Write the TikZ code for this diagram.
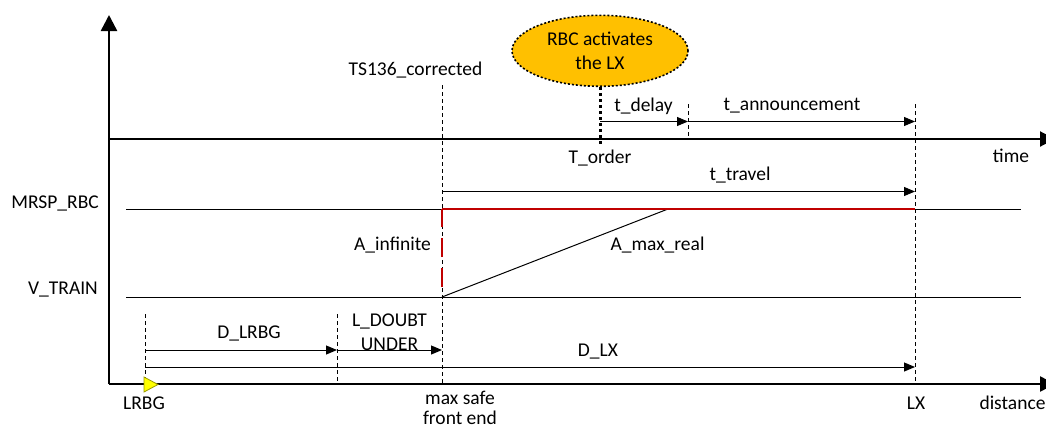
\documentclass[tikz,border=0pt]{standalone}
\usepackage{fontspec}
\setmainfont{Carlito}
\usetikzlibrary{arrows.meta,shapes.geometric}
\definecolor{lxorange}{HTML}{FFC000}
\definecolor{mrspred}{HTML}{C00000}
\definecolor{lrbgyellow}{HTML}{FFFF00}
\definecolor{lrbgedge}{HTML}{9A9A00}
\begin{document}
\begin{tikzpicture}[x=1pt,y=-1pt,
  font=\fontsize{19.5}{23.5}\selectfont,
  axisline/.style={line width=2.5pt,-{Triangle[length=15pt,width=15pt]}},
  meas/.style={line width=1pt,-{Triangle[length=11pt,width=9pt]}},
  guide/.style={line width=0.9pt,dash pattern=on 4pt off 3pt},
  lvl/.style={line width=1pt},
  lbl/.style={inner sep=0pt,anchor=base},
  mlbl/.style={inner sep=0pt,align=center,anchor=center},
  event/.style={ellipse,draw,fill=lxorange,line width=1.6pt,dash pattern=on 2pt off 2pt,
    minimum width=176pt,minimum height=71pt,inner sep=0pt,align=center,
    font=\fontsize{19.5}{23.5}\selectfont}
]
\useasboundingbox (0,0) rectangle (1046,429);

% key coordinates
\coordinate (O) at (109,384);
\coordinate (Ytop) at (109,15);
\coordinate (Tl) at (109,139);
\coordinate (Tr) at (1055,139);
\coordinate (Dr) at (1055,384);
\coordinate (Ml) at (126,209);
\coordinate (Mr) at (1021,209);
\coordinate (Vl) at (126,297);
\coordinate (Vr) at (1021,297);
\coordinate (Sv) at (442,297);
\coordinate (Sm) at (442,209);
\coordinate (Sdash) at (442,287);
\coordinate (Lm) at (915,209);
\coordinate (Am) at (668,209);

% guide lines
\coordinate (g1t) at (145,314); \coordinate (g1b) at (145,384);
\coordinate (g2t) at (337,314); \coordinate (g2b) at (337,384);
\coordinate (g3t) at (442,85);  \coordinate (g3b) at (442,384);
\coordinate (g4t) at (688,104); \coordinate (g4b) at (688,139);
\coordinate (g5t) at (915,104); \coordinate (g5b) at (915,384);
\draw[guide] (g1t) -- (g1b);
\draw[guide] (g2t) -- (g2b);
\draw[guide] (g3t) -- (g3b);
\draw[guide] (g4t) -- (g4b);
\draw[guide] (g5t) -- (g5b);

% axes
\draw[line width=2.5pt,-{Triangle[length=16pt,width=16pt]}] (O) -- (Ytop);
\draw[axisline,line width=2pt] (Tl) -- (Tr);
\draw[axisline] (O) -- (Dr);

% speed levels
\draw[lvl] (Ml) -- (Mr);
\draw[lvl] (Vl) -- (Vr);
\draw[lvl] (Sv) -- (Am);
\draw[mrspred,line width=2.5pt] (Sm) -- (Lm);
\draw[mrspred,line width=2.5pt,dash pattern=on 19pt off 11pt] (Sdash) -- (Sm);

% event ellipse and T_order
\node[event] (rbc) at (600,50.8) {RBC activates\\the LX};
\coordinate (To) at (600,146);
\draw[line width=3pt,dash pattern=on 3pt off 3pt] (rbc.south) -- (To);

% time measurements
\coordinate (d1) at (600,121.5); \coordinate (d2) at (688,121.5); \coordinate (d3) at (915,121.5);
\draw[meas] (d1) -- (d2);
\draw[meas] (d2) -- (d3);
\coordinate (tt1) at (442,191.5); \coordinate (tt2) at (915,191.5);
\draw[meas] (tt1) -- (tt2);

% distance measurements
\coordinate (a1) at (145,350); \coordinate (a2) at (337,350); \coordinate (a3) at (442,350);
\draw[meas] (a1) -- (a2);
\draw[meas] (a2) -- (a3);
\coordinate (x1) at (145,367); \coordinate (x2) at (915,367);
\draw[meas] (x1) -- (x2);

% LRBG balise
\draw[fill=lrbgyellow,draw=lrbgedge,line width=0.8pt] (144,377) -- (158,384.5) -- (144,392) -- cycle;

% labels
\node[lbl] (lts) at (415.5,75.5) {TS136\_corrected};
\node[lbl] (ldel) at (643.5,111.5) {t\_delay};
\node[lbl] (lann) at (792,110.5) {t\_announcement};
\node[lbl] (lto) at (600,163) {T\_order};
\node[lbl] (ltime) at (1011,162) {time};
\node[lbl] (ltrav) at (740,180.5) {t\_travel};
\node[lbl,anchor=base east] (lmrsp) at (99,208) {MRSP\_RBC};
\node[lbl,anchor=base east] (lvt) at (98,294.5) {V\_TRAIN};
\node[lbl] (lainf) at (392.5,250.5) {A\_infinite};
\node[lbl] (lamax) at (657.5,250.5) {A\_max\_real};
\node[lbl] (ldl) at (249,338) {D\_LRBG};
\node[mlbl,font=\fontsize{19.5}{24}\selectfont] (ldu) at (389.5,332) {L\_DOUBT\\UNDER};
\node[lbl] (ldlx) at (598,356.5) {D\_LX};
\node[lbl] (llrbg) at (144,409) {LRBG};
\node[mlbl,font=\fontsize{19.5}{20.5}\selectfont] (lmsf) at (460,408) {max safe\\front end};
\node[lbl] (llx) at (916,409) {LX};
\node[lbl] (ldist) at (1012.5,409) {distance};
\end{tikzpicture}
\end{document}
